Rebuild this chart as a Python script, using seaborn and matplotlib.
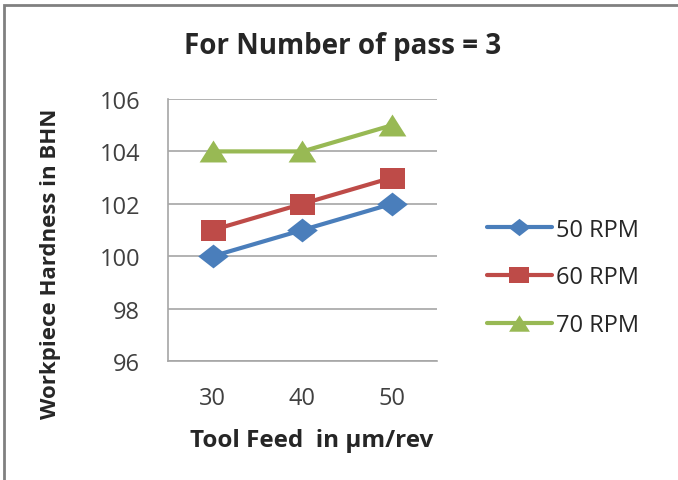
import matplotlib
matplotlib.use("Agg")
import matplotlib.pyplot as plt
import seaborn as sns
import pandas as pd
from matplotlib.patches import Rectangle
from matplotlib.path import Path
from matplotlib.lines import Line2D

feeds = ["30", "40", "50"]
rpm50 = [100, 101, 102]
rpm60 = [101, 102, 103]
rpm70 = [104, 104, 105]
series_names = ["50 RPM", "60 RPM", "70 RPM"]
yticks = [96, 98, 100, 102, 104, 106]

rows = []
for name, vals in zip(series_names, [rpm50, rpm60, rpm70]):
    for f, v in zip(feeds, vals):
        rows.append({"feed": f, "hardness": v, "series": name})
df = pd.DataFrame(rows)

sns.set_theme(style="white")
plt.rcParams["font.family"] = ["Open Sans", "DejaVu Sans"]

fig = plt.figure(figsize=(6.78, 4.81), dpi=100)
ax = fig.add_axes([0.2478, 0.2474, 0.3967, 0.5447])

colors = ["#4A7EBB", "#BE4B48", "#98B954"]
palette = dict(zip(series_names, colors))

# horizontally widened marker shapes
diamond = Path([(-1, 0), (0, 0.78), (1, 0), (0, -0.78), (-1, 0)],
               [Path.MOVETO, Path.LINETO, Path.LINETO, Path.LINETO, Path.CLOSEPOLY])
square = Path([(-1, -0.84), (1, -0.84), (1, 0.84), (-1, 0.84), (-1, -0.84)],
              [Path.MOVETO, Path.LINETO, Path.LINETO, Path.LINETO, Path.CLOSEPOLY])
triangle = Path([(0, 0.79), (-1, -0.79), (1, -0.79), (0, 0.79)],
                [Path.MOVETO, Path.LINETO, Path.LINETO, Path.CLOSEPOLY])
marker_list = [diamond, square, triangle]
plot_msize = [22, 18, 20]
legend_msize = [16, 14, 15]

sns.pointplot(data=df, x="feed", y="hardness", hue="series", order=feeds,
              hue_order=series_names, palette=palette,
              markers=marker_list, linestyles=["-", "-", "-"],
              errorbar=None, ax=ax, markersize=20, linewidth=3, legend=False)

for line in ax.lines:
    c = matplotlib.colors.to_hex(line.get_color()).lower()
    for col, ms in zip(colors, plot_msize):
        if c == col.lower():
            line.set_markersize(ms)
            line.set_markeredgewidth(0)

ax.set_ylim(96, 106)
ax.set_yticks(yticks)
ax.set_xlim(-0.5, 2.5)
ax.yaxis.grid(True, color="#A6A6A6", linewidth=1.2)
ax.set_axisbelow(True)
for s in ["top", "right"]:
    ax.spines[s].set_visible(False)
for s in ["left", "bottom"]:
    ax.spines[s].set_color("#A6A6A6")
    ax.spines[s].set_linewidth(1.2)
ax.tick_params(axis="both", length=0, labelsize=17)
ax.tick_params(axis="y", pad=20)
ax.tick_params(axis="x", pad=18)
for lab in ax.get_xticklabels() + ax.get_yticklabels():
    lab.set_color("#404040")

ax.set_xlabel("Tool Feed  in µm/rev", fontsize=17.5, fontweight="bold")
ax.xaxis.set_label_coords(0.535, -0.255)
ax.set_ylabel("Workpiece Hardness in BHN", fontsize=16, fontweight="bold")
ax.yaxis.set_label_coords(-0.398, 0.374)

fig.text(0.506, 0.904, "For Number of pass = 3", fontsize=20, fontweight="bold",
         ha="center", va="center")

handles = [Line2D([], [], color=c, marker=m, markersize=ms, linewidth=3,
                  markeredgewidth=0)
           for c, m, ms in zip(colors, marker_list, legend_msize)]
ax.legend(handles, series_names, loc="center left", bbox_to_anchor=(1.15, 0.32),
          frameon=False, fontsize=17, handlelength=2.75, handletextpad=0.2,
          labelspacing=1.0, borderaxespad=0)

fig.add_artist(Rectangle((4 / 678, -0.1), 1.2, 1 - 6 / 481 + 0.1,
                         transform=fig.transFigure, fill=False,
                         edgecolor="#808080", linewidth=2))

fig.savefig("out.png", dpi=100)
